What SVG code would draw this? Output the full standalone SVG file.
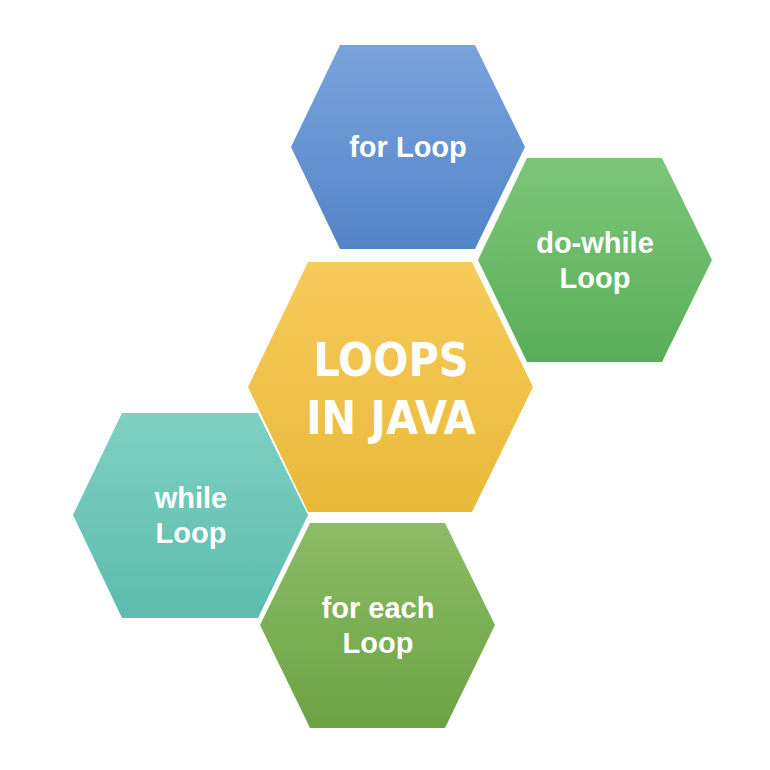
<svg xmlns="http://www.w3.org/2000/svg" width="770" height="770" viewBox="0 0 770 770">
<style>
.t{font-family:"Liberation Sans",Arial,sans-serif;font-weight:bold;font-size:29px;fill:#fff;text-anchor:middle}
.c{font-family:"DejaVu Sans Condensed","DejaVu Sans",sans-serif;font-weight:bold;font-size:46px;fill:#fff;text-anchor:middle}
</style>
<defs>
<linearGradient id="gb" x1="0" y1="0" x2="0" y2="1"><stop offset="0" stop-color="#7aa3dc"/><stop offset="1" stop-color="#5384c8"/></linearGradient>
<linearGradient id="gg" x1="0" y1="0" x2="0" y2="1"><stop offset="0" stop-color="#7cc67a"/><stop offset="1" stop-color="#5aae58"/></linearGradient>
<linearGradient id="gy" x1="0" y1="0" x2="0" y2="1"><stop offset="0" stop-color="#f7cb5a"/><stop offset="1" stop-color="#e9b93a"/></linearGradient>
<linearGradient id="gt" x1="0" y1="0" x2="0" y2="1"><stop offset="0" stop-color="#7fd0c2"/><stop offset="1" stop-color="#5cbcad"/></linearGradient>
<linearGradient id="gf" x1="0" y1="0" x2="0" y2="1"><stop offset="0" stop-color="#8cbc66"/><stop offset="1" stop-color="#6ba344"/></linearGradient>
</defs>
<g id="connectors"/>
<g id="for"><polygon points="291,147 340,45 475,45 525,147 475,249 340,249" fill="url(#gb)"/><text class="t" x="408" y="157">for Loop</text></g>
<g id="dowhile"><polygon points="478,260 527,158 662,158 712,260 662,362 527,362" fill="url(#gg)"/><text class="t" x="595" y="253">do-while</text><text class="t" x="595" y="288">Loop</text></g>
<g id="center"><polygon points="248,387 308,262 472,262 533,387 472,512 308,512" fill="url(#gy)"/><text class="c" x="391" y="376">LOOPS</text><text class="c" x="391" y="434">IN JAVA</text></g>
<g id="while"><polygon points="73,515 122,413 258,413 308,515 258,618 122,618" fill="url(#gt)"/><text class="t" x="191" y="508">while</text><text class="t" x="191" y="543">Loop</text></g>
<g id="foreach"><polygon points="260,625 310,523 445,523 495,625 445,728 310,728" fill="url(#gf)"/><text class="t" x="378" y="618">for each</text><text class="t" x="378" y="653">Loop</text></g>
</svg>
